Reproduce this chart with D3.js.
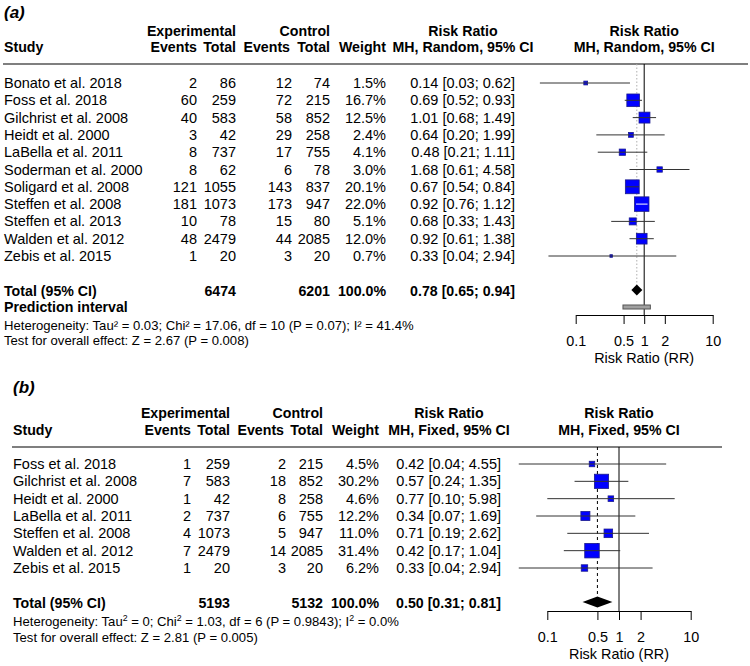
<!DOCTYPE html>
<html>
<head>
<meta charset="utf-8">
<script src="https://cdn.jsdelivr.net/npm/d3@7"></script>
<style>
    body { margin: 0; background: #fff; }
    svg { display: block; font-family: "Liberation Sans", Arial, sans-serif; }
</style>
</head>
<body>
<div id="chart"></div>
<script>
// ---- panel (a): random effects ----
var studiesA = ["Bonato et al. 2018", "Foss et al. 2018", "Gilchrist et al. 2008", "Heidt et al. 2000",
    "LaBella et al. 2011", "Soderman et al. 2000", "Soligard et al. 2008", "Steffen et al. 2008",
    "Steffen et al. 2013", "Walden et al. 2012", "Zebis et al. 2015"];
var expEventsA = [2, 60, 40, 3, 8, 8, 121, 181, 10, 48, 1];
var expTotalA = [86, 259, 583, 42, 737, 62, 1055, 1073, 78, 2479, 20];
var ctrlEventsA = [12, 72, 58, 29, 17, 6, 143, 173, 15, 44, 3];
var ctrlTotalA = [74, 215, 852, 258, 755, 78, 837, 947, 80, 2085, 20];
var weightA = [1.5, 16.7, 12.5, 2.4, 4.1, 3.0, 20.1, 22.0, 5.1, 12.0, 0.7];
var rrA = [0.14, 0.69, 1.01, 0.64, 0.48, 1.68, 0.67, 0.92, 0.68, 0.92, 0.33];
var lowerA = [0.03, 0.52, 0.68, 0.20, 0.21, 0.61, 0.54, 0.76, 0.33, 0.61, 0.04];
var upperA = [0.62, 0.93, 1.49, 1.99, 1.11, 4.58, 0.84, 1.12, 1.43, 1.38, 2.94];
var totalsA = [6474, 6201];
var pooledA = [0.78, 0.65, 0.94];
var predIntA = [0.49, 1.23];

// ---- panel (b): fixed effect ----
var studiesB = ["Foss et al. 2018", "Gilchrist et al. 2008", "Heidt et al. 2000", "LaBella et al. 2011",
    "Steffen et al. 2008", "Walden et al. 2012", "Zebis et al. 2015"];
var expEventsB = [1, 7, 1, 2, 4, 7, 1];
var expTotalB = [259, 583, 42, 737, 1073, 2479, 20];
var ctrlEventsB = [2, 18, 8, 6, 5, 14, 3];
var ctrlTotalB = [215, 852, 258, 755, 947, 2085, 20];
var weightB = [4.5, 30.2, 4.6, 12.2, 11.0, 31.4, 6.2];
var rrB = [0.42, 0.57, 0.77, 0.34, 0.71, 0.42, 0.33];
var lowerB = [0.04, 0.24, 0.10, 0.07, 0.19, 0.17, 0.04];
var upperB = [4.55, 1.35, 5.98, 1.69, 2.62, 1.04, 2.94];
var totalsB = [5193, 5132];
var pooledB = [0.50, 0.31, 0.81];

var axisTicks = [0.1, 0.5, 1, 2, 10];

var W = 750, H = 666;
var fs = 14.5, fsBold = 14.2, fsSmall = 13.1;

var svg = d3.select("#chart").append("svg")
    .attr("width", W)
    .attr("height", H);

function fmt2(v) { return v.toFixed(2); }
function ciText(r, l, u) { return fmt2(r) + " [" + fmt2(l) + "; " + fmt2(u) + "]"; }

function drawPanel(p) {
    var g = svg.append("g");
    var n = p.studies.length;

    var x = d3.scaleLog().domain([0.1, 10]).range(p.xRange);
    var y = d3.scaleLinear().domain([0, n - 1]).range(p.rowRange);
    var side = d3.scaleSqrt().domain([0, d3.max(p.weight)]).range([0, 14.5]);

    function txt(tx, ty, s, anchor, bold, size) {
        return g.append("text")
            .attr("x", tx)
            .attr("y", ty)
            .attr("dy", "0.35em")
            .attr("text-anchor", anchor || "start")
            .attr("font-weight", bold ? "bold" : null)
            .style("font-size", (size || (bold ? fsBold : fs)) + "px")
            .style("fill", "#000")
            .text(s);
    }

    // panel label
    txt(p.left, p.labelY, p.label, "start", true, 17).style("font-style", "italic");

    // headers
    var c = p.cols;
    txt(p.left, p.headY[1], "Study", "start", true);
    txt(c[1], p.headY[0], "Experimental", "end", true);
    txt(c[0], p.headY[1], "Events", "end", true);
    txt(c[1], p.headY[1], "Total", "end", true);
    txt(c[3], p.headY[0], "Control", "end", true);
    txt(c[2] - 2, p.headY[1], "Events", "end", true);
    txt(c[3], p.headY[1], "Total", "end", true);
    txt(c[4], p.headY[1], "Weight", "end", true);
    txt(p.rrHeadX, p.headY[0], "Risk Ratio", "middle", true);
    txt(p.rrHeadX, p.headY[1], p.method, "middle", true);
    txt(x(1), p.headY[0], "Risk Ratio", "middle", true);
    txt(x(1), p.headY[1], p.method, "middle", true);

    g.append("line")
        .attr("x1", p.left - 1)
        .attr("x2", p.lineX2)
        .attr("y1", p.lineY)
        .attr("y2", p.lineY)
        .style("stroke", "#555")
        .style("stroke-width", "1.3px");

    // study rows
    p.studies.forEach(function (s, i) {
        var yy = y(i);
        txt(p.left, yy, s);
        txt(c[0], yy, p.expEvents[i], "end");
        txt(c[1], yy, p.expTotal[i], "end");
        txt(c[2], yy, p.ctrlEvents[i], "end");
        txt(c[3], yy, p.ctrlTotal[i], "end");
        txt(c[4], yy, p.weight[i].toFixed(1) + "%", "end");
        txt(c[5], yy, ciText(p.rr[i], p.lower[i], p.upper[i]), "end");
    });

    // totals
    txt(p.left, p.totalY, "Total (95% CI)", "start", true);
    txt(c[1], p.totalY, p.totals[0], "end", true);
    txt(c[3], p.totalY, p.totals[1], "end", true);
    txt(c[4], p.totalY, "100.0%", "end", true);
    txt(c[5], p.totalY, ciText(p.pooled[0], p.pooled[1], p.pooled[2]), "end", true);
    if (p.predInt) txt(p.left, p.predY, "Prediction interval", "start", true);

    // heterogeneity / test lines
    var het = g.append("text")
        .attr("x", p.left)
        .attr("y", p.hetY)
        .attr("dy", "0.35em")
        .style("font-size", fsSmall + "px");
    p.hetParts.forEach(function (part) {
        var t = het.append("tspan").text(part[0]);
        if (part[1]) t.attr("baseline-shift", "super").style("font-size", "8.8px");
    });
    txt(p.left, p.testY, p.testText, "start", false, fsSmall);

    // reference lines
    g.append("line")
        .attr("x1", x(p.pooled[0]))
        .attr("x2", x(p.pooled[0]))
        .attr("y1", p.lineY)
        .attr("y2", p.totalY - 5)
        .style("stroke", p.refColor)
        .style("stroke-dasharray", p.refDash)
        .style("stroke-width", "1px");

    g.append("line")
        .attr("x1", x(1))
        .attr("x2", x(1))
        .attr("y1", p.lineY)
        .attr("y2", p.axisY)
        .style("stroke", "#000")
        .style("stroke-width", "1px");

    // squares
    g.selectAll(".sq")
        .data(p.studies)
        .enter()
        .append("rect")
        .attr("class", "sq")
        .attr("x", function (d, i) { return x(p.rr[i]) - side(p.weight[i]) / 2; })
        .attr("y", function (d, i) { return y(i) - side(p.weight[i]) / 2; })
        .attr("width", function (d, i) { return side(p.weight[i]); })
        .attr("height", function (d, i) { return side(p.weight[i]); })
        .style("fill", "#0000ff")
        .style("stroke", "#1a1a8c")
        .style("stroke-width", "0.8px");

    // confidence intervals
    g.selectAll(".ci")
        .data(p.studies)
        .enter()
        .append("line")
        .attr("class", "ci")
        .attr("x1", function (d, i) { return x(p.lower[i]); })
        .attr("x2", function (d, i) { return x(p.upper[i]); })
        .attr("y1", function (d, i) { return y(i); })
        .attr("y2", function (d, i) { return y(i); })
        .style("stroke", function (d, i) {
            var w = x(p.upper[i]) - x(p.lower[i]);
            return w < side(p.weight[i]) - 2 ? "#fff" : "#333";
        })
        .style("stroke-width", "1px");

    // pooled diamond
    var ty = p.totalY - 1;
    g.append("polygon")
        .attr("points", [
            [x(p.pooled[1]), ty],
            [x(p.pooled[0]), ty - 5.5],
            [x(p.pooled[2]), ty],
            [x(p.pooled[0]), ty + 5.5]
        ].map(function (q) { return q.join(","); }).join(" "))
        .style("fill", "#000");

    if (p.predInt) {
        g.append("rect")
            .attr("x", x(p.predInt[0]))
            .attr("y", p.predY - 2)
            .attr("width", x(p.predInt[1]) - x(p.predInt[0]))
            .attr("height", 4)
            .style("fill", "#a0a0a0")
            .style("stroke", "#555")
            .style("stroke-width", "1px");
    }

    // axis
    var axis = d3.axisBottom(x)
        .tickValues(axisTicks)
        .tickFormat(function (d) { return String(d); })
        .tickSizeInner(9)
        .tickSizeOuter(0)
        .tickPadding(12);

    var ax = g.append("g")
        .attr("transform", "translate(0," + p.axisY + ")")
        .call(axis);

    ax.select(".domain")
        .style("stroke", "#000")
        .style("stroke-width", "1px");
    ax.selectAll(".tick line")
        .style("stroke", "#000")
        .style("stroke-width", "1px");
    ax.selectAll(".tick text")
        .style("font-family", "\"Liberation Sans\", Arial, sans-serif")
        .style("font-size", "14.4px")
        .style("fill", "#000");

    txt((p.xRange[0] + p.xRange[1]) / 2, p.axisY + 43, "Risk Ratio (RR)", "middle", false, 14.4);
}

drawPanel({
    label: "(a)", method: "MH, Random, 95% CI",
    studies: studiesA, expEvents: expEventsA, expTotal: expTotalA, ctrlEvents: ctrlEventsA,
    ctrlTotal: ctrlTotalA, weight: weightA, rr: rrA, lower: lowerA, upper: upperA,
    totals: totalsA, pooled: pooledA, predInt: predIntA,
    hetParts: [["Heterogeneity: Tau\u00b2 = 0.03; Chi\u00b2 = 17.06, df = 10 (P = 0.07); I\u00b2 = 41.4%"]],
    testText: "Test for overall effect: Z = 2.67 (P = 0.008)",
    left: 4, labelY: 12, headY: [31, 47], lineY: 64, lineX2: 748,
    cols: [197, 236, 292, 330, 386, 515], rrHeadX: 463,
    xRange: [575.7, 712.7], rowRange: [83, 256],
    totalY: 291, predY: 307, hetY: 325, testY: 340, axisY: 315,
    refColor: "#b0b0b0", refDash: "1.5,2"
});

drawPanel({
    label: "(b)", method: "MH, Fixed, 95% CI",
    studies: studiesB, expEvents: expEventsB, expTotal: expTotalB, ctrlEvents: ctrlEventsB,
    ctrlTotal: ctrlTotalB, weight: weightB, rr: rrB, lower: lowerB, upper: upperB,
    totals: totalsB, pooled: pooledB, predInt: null,
    hetParts: [["Heterogeneity: Tau"], ["2", true], [" = 0; Chi"], ["2", true],
        [" = 1.03, df = 6 (P = 0.9843); I"], ["2", true], [" = 0.0%"]],
    testText: "Test for overall effect: Z = 2.81 (P = 0.005)",
    left: 13, labelY: 387, headY: [413, 430], lineY: 447, lineX2: 722,
    cols: [191, 230, 286, 323, 379, 501], rrHeadX: 449,
    xRange: [547.3, 690.7], rowRange: [464, 568],
    totalY: 603, predY: null, hetY: 621, testY: 637, axisY: 611,
    refColor: "#000", refDash: "3,3"
});
</script>
</body>
</html>
